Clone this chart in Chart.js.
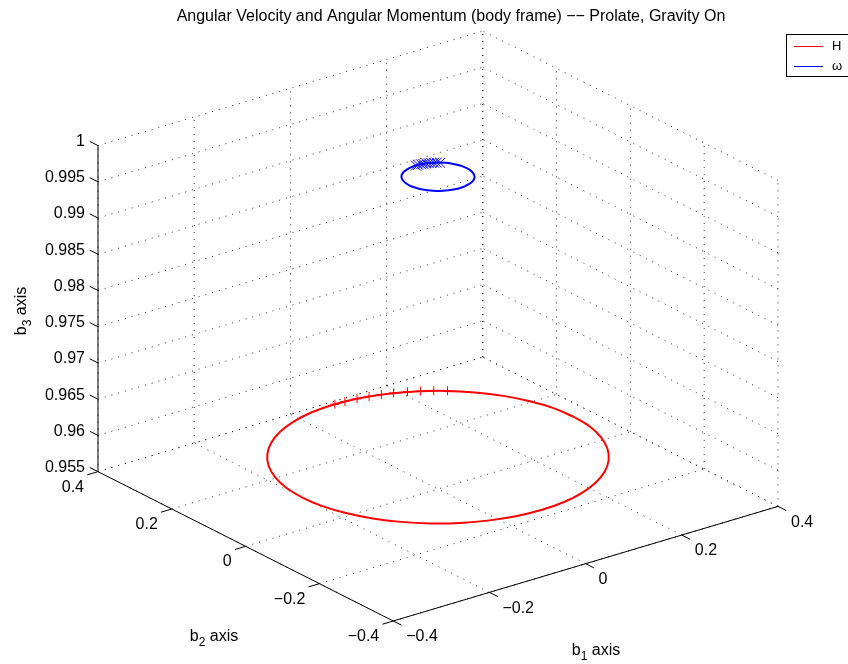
<!DOCTYPE html>
<html>
<head>
<meta charset="utf-8">
<title>Angular Velocity and Angular Momentum</title>
<script src="https://cdn.jsdelivr.net/npm/chart.js@4.4.0/dist/chart.umd.min.js"></script>
<style>
    html, body { margin: 0; padding: 0; background: #fff; }
    #wrap { width: 848px; height: 664px; }
</style>
</head>
<body>
<div id="wrap"><canvas id="myChart" width="848" height="664"></canvas></div>
<script>
(function () {
    "use strict";

    // axis limits and ticks, body frame components
    var b1Lim = [-0.4, 0.4];
    var b2Lim = [-0.4, 0.4];
    var b3Lim = [0.955, 1];
    var b1Ticks = [-0.4, -0.2, 0, 0.2, 0.4];
    var b2Ticks = [-0.4, -0.2, 0, 0.2, 0.4];
    var b3Ticks = [0.955, 0.96, 0.965, 0.97, 0.975, 0.98, 0.985, 0.99, 0.995, 1];
    var b1TickLabels = ['\u22120.4', '\u22120.2', '0', '0.2', '0.4'];
    var b2TickLabels = ['\u22120.4', '\u22120.2', '0', '0.2', '0.4'];
    var b3TickLabels = ['0.955', '0.96', '0.965', '0.97', '0.975', '0.98', '0.985', '0.99', '0.995', '1'];

    // angular momentum H, one full cone
    var hB1 = [0.282, 0.278, 0.265, 0.244, 0.216, 0.181, 0.141, 0.096, 0.049, 0, -0.049, -0.096, -0.141, -0.181, -0.216, -0.244, -0.265, -0.278,
               -0.282, -0.278, -0.265, -0.244, -0.216, -0.181, -0.141, -0.096, -0.049, 0, 0.049, 0.096, 0.141, 0.181, 0.216, 0.244, 0.265, 0.278, 0.282];
    var hB2 = [0, 0.049, 0.096, 0.141, 0.181, 0.216, 0.244, 0.265, 0.278, 0.282, 0.278, 0.265, 0.244, 0.216, 0.181, 0.141, 0.096, 0.049,
               0, -0.049, -0.096, -0.141, -0.181, -0.216, -0.244, -0.265, -0.278, -0.282, -0.278, -0.265, -0.244, -0.216, -0.181, -0.141, -0.096, -0.049, 0];
    var hB3 = 0.9594;
    // marked H samples
    var hMarkB1 = [0.184, 0.166, 0.148, 0.129, 0.108, 0.088, 0.067, 0.045, 0.022, 0.002];
    var hMarkB2 = [0.214, 0.228, 0.240, 0.251, 0.261, 0.268, 0.274, 0.278, 0.281, 0.282];

    // angular velocity omega, one full cone
    var wB1 = [0.060, 0.059, 0.056, 0.052, 0.046, 0.039, 0.030, 0.021, 0.010, 0, -0.010, -0.021, -0.030, -0.039, -0.046, -0.052, -0.056, -0.059,
               -0.060, -0.059, -0.056, -0.052, -0.046, -0.039, -0.030, -0.021, -0.010, 0, 0.010, 0.021, 0.030, 0.039, 0.046, 0.052, 0.056, 0.059, 0.060];
    var wB2 = [0, 0.010, 0.021, 0.030, 0.039, 0.046, 0.052, 0.056, 0.059, 0.060, 0.059, 0.056, 0.052, 0.046, 0.039, 0.030, 0.021, 0.010,
               0, -0.010, -0.021, -0.030, -0.039, -0.046, -0.052, -0.056, -0.059, -0.060, -0.059, -0.056, -0.052, -0.046, -0.039, -0.030, -0.021, -0.010, 0];
    var wB3 = 0.9981;
    // marked omega samples
    var wMarkB1 = [0.039, 0.035, 0.031, 0.027, 0.023, 0.019, 0.014, 0.010, 0.005, 0.000];
    var wMarkB2 = [0.045, 0.049, 0.051, 0.053, 0.055, 0.057, 0.058, 0.059, 0.060, 0.060];

    var FONT = '"Liberation Sans", Arial, Helvetica, sans-serif';

    // default 3-D view: azimuth -37.5, elevation 30
    var az = -37.5 * Math.PI / 180;
    var el = 30 * Math.PI / 180;

    function project(p1, p2, p3) {
        var x = (p1 - b1Lim[0]) / (b1Lim[1] - b1Lim[0]);
        var y = (p2 - b2Lim[0]) / (b2Lim[1] - b2Lim[0]);
        var z = (p3 - b3Lim[0]) / (b3Lim[1] - b3Lim[0]);
        return {
            x: Math.cos(az) * x + Math.sin(az) * y,
            y: -Math.sin(el) * Math.sin(az) * x + Math.sin(el) * Math.cos(az) * y + Math.cos(el) * z
        };
    }

    // bounds of the projected box
    var xMin = Infinity, xMax = -Infinity, yMin = Infinity, yMax = -Infinity;
    [0, 1].forEach(function (i) {
        [0, 1].forEach(function (j) {
            [0, 1].forEach(function (k) {
                var q = project(b1Lim[i], b2Lim[j], b3Lim[k]);
                xMin = Math.min(xMin, q.x); xMax = Math.max(xMax, q.x);
                yMin = Math.min(yMin, q.y); yMax = Math.max(yMax, q.y);
            });
        });
    });

    function segments(list) {
        var out = [];
        list.forEach(function (s) {
            out.push(project(s[0][0], s[0][1], s[0][2]));
            out.push(project(s[1][0], s[1][1], s[1][2]));
            out.push({ x: null, y: null });
        });
        return out;
    }

    function curve(a1, a2, a3) {
        return a1.map(function (v, i) { return project(v, a2[i], a3); });
    }

    var z0 = b3Lim[0], z1 = b3Lim[1];
    var lo1 = b1Lim[0], hi1 = b1Lim[1], lo2 = b2Lim[0], hi2 = b2Lim[1];

    // dotted grid on floor and the two back walls
    var grid = [];
    b1Ticks.forEach(function (c) {
        grid.push([[c, lo2, z0], [c, hi2, z0]]);
        grid.push([[c, hi2, z0], [c, hi2, z1]]);
    });
    b2Ticks.forEach(function (c) {
        grid.push([[lo1, c, z0], [hi1, c, z0]]);
        grid.push([[hi1, c, z0], [hi1, c, z1]]);
    });
    b3Ticks.forEach(function (c) {
        grid.push([[lo1, hi2, c], [hi1, hi2, c]]);
        grid.push([[hi1, lo2, c], [hi1, hi2, c]]);
    });

    // solid axis lines and their ticks
    var tickLen = 0.028 * (b1Lim[1] - b1Lim[0]);
    var axes = [
        [[lo1, hi2, z0], [lo1, hi2, z1]],
        [[lo1, lo2, z0], [lo1, hi2, z0]],
        [[lo1, lo2, z0], [hi1, lo2, z0]]
    ];
    b3Ticks.forEach(function (c) { axes.push([[lo1, hi2, c], [lo1, hi2 + tickLen, c]]); });
    b2Ticks.forEach(function (c) { axes.push([[lo1, c, z0], [lo1 - tickLen, c, z0]]); });
    b1Ticks.forEach(function (c) { axes.push([[c, lo2, z0], [c, lo2 - tickLen, z0]]); });

    var hMarks = hMarkB1.map(function (v, i) { return project(v, hMarkB2[i], hB3); });
    var wMarks = wMarkB1.map(function (v, i) { return project(v, wMarkB2[i], wB3); });

    var textPlugin = {
        id: 'axisText',
        afterDraw: function (chart) {
            var ctx = chart.ctx, sx = chart.scales.x, sy = chart.scales.y;
            function pix(p1, p2, p3) {
                var q = project(p1, p2, p3);
                return { x: sx.getPixelForValue(q.x), y: sy.getPixelForValue(q.y) };
            }
            ctx.save();
            ctx.fillStyle = '#000';
            ctx.font = '16px ' + FONT;
            ctx.textBaseline = 'middle';

            ctx.textAlign = 'right';
            b3Ticks.forEach(function (v, i) {
                var p = pix(lo1, hi2, v);
                ctx.fillText(b3TickLabels[i], p.x - 13, p.y - 4);
            });
            b2Ticks.forEach(function (v, i) {
                var p = pix(lo1, v, z0);
                ctx.fillText(b2TickLabels[i], p.x - 14, p.y + 15.5);
            });
            ctx.textAlign = 'left';
            b1Ticks.forEach(function (v, i) {
                var p = pix(v, lo2, z0);
                ctx.fillText(b1TickLabels[i], p.x + 13, p.y + 16);
            });

            // title
            ctx.textAlign = 'center';
            ctx.fillText('Angular Velocity and Angular Momentum (body frame) \u2212\u2212 Prolate, Gravity On', 451, 16.5);

            // axis labels with subscripts
            function subLabel(x, y, sub, angle) {
                ctx.save();
                ctx.translate(x, y);
                ctx.rotate(angle);
                ctx.textBaseline = 'alphabetic';
                ctx.textAlign = 'left';
                ctx.font = '16px ' + FONT;
                var wb = ctx.measureText('b').width;
                var wt = ctx.measureText(' axis').width;
                ctx.font = '12px ' + FONT;
                var ws = ctx.measureText(sub).width;
                var left = -(wb + ws + wt) / 2;
                ctx.font = '16px ' + FONT;
                ctx.fillText('b', left, 0);
                ctx.fillText(' axis', left + wb + ws, 0);
                ctx.font = '12px ' + FONT;
                ctx.fillText(sub, left + wb, 5);
                ctx.restore();
            }
            subLabel(214, 641, '2', 0);
            subLabel(596, 655, '1', 0);
            subLabel(26, 311, '3', -Math.PI / 2);

            // legend box
            ctx.strokeStyle = '#000';
            ctx.lineWidth = 1;
            ctx.fillStyle = '#fff';
            ctx.fillRect(786.5, 34.5, 80, 42);
            ctx.strokeRect(786.5, 34.5, 80, 42);
            var entries = [
                { label: 'H', color: '#ff0000', y: 46 },
                { label: '\u03c9', color: '#0000ff', y: 66 }
            ];
            entries.forEach(function (e) {
                ctx.strokeStyle = e.color;
                ctx.beginPath();
                ctx.moveTo(794, e.y + 0.5);
                ctx.lineTo(823, e.y + 0.5);
                ctx.stroke();
                ctx.fillStyle = '#000';
                ctx.font = '13px ' + FONT;
                ctx.textAlign = 'left';
                ctx.textBaseline = 'middle';
                ctx.fillText(e.label, 832, e.y + 0.5);
            });
            ctx.restore();
        }
    };

    var ctx = document.getElementById('myChart').getContext('2d');
    var chart = new Chart(ctx, {
        type: 'scatter',
        data: {
            datasets: [
                {
                    label: 'grid',
                    data: segments(grid),
                    showLine: true,
                    borderColor: 'rgba(0, 0, 0, 0.8)',
                    borderWidth: 1,
                    borderDash: [1, 6],
                    pointRadius: 0,
                    spanGaps: false,
                    clip: false,
                    order: 10
                },
                {
                    label: 'axes',
                    data: segments(axes),
                    showLine: true,
                    borderColor: '#000',
                    borderWidth: 1,
                    pointRadius: 0,
                    spanGaps: false,
                    clip: false,
                    order: 9
                },
                {
                    label: 'H',
                    data: curve(hB1, hB2, hB3),
                    showLine: true,
                    borderColor: '#ff0000',
                    borderWidth: 2,
                    tension: 0.3,
                    pointRadius: 0,
                    clip: false,
                    order: 4
                },
                {
                    label: 'H samples',
                    data: hMarks,
                    showLine: false,
                    pointStyle: 'cross',
                    pointRadius: 4.5,
                    pointBorderWidth: 1,
                    borderColor: '#ff0000',
                    pointBorderColor: '#ff0000',
                    clip: false,
                    order: 3
                },
                {
                    label: '\u03c9',
                    data: curve(wB1, wB2, wB3),
                    showLine: true,
                    borderColor: '#0000ff',
                    borderWidth: 2,
                    tension: 0.3,
                    pointRadius: 0,
                    clip: false,
                    order: 2
                },
                {
                    label: '\u03c9 samples',
                    data: wMarks,
                    showLine: false,
                    pointStyle: 'crossRot',
                    pointRadius: 7,
                    pointBorderWidth: 1,
                    borderColor: '#0000ff',
                    pointBorderColor: '#0000ff',
                    clip: false,
                    order: 1
                }
            ]
        },
        options: {
            responsive: false,
            devicePixelRatio: 1,
            animation: false,
            events: [],
            layout: { padding: { left: 98, right: 70, top: 31, bottom: 43 } },
            plugins: {
                legend: { display: false },
                tooltip: { enabled: false },
                title: { display: false }
            },
            scales: {
                x: { type: 'linear', display: false, min: xMin, max: xMax },
                y: { type: 'linear', display: false, min: yMin, max: yMax }
            }
        },
        plugins: [textPlugin]
    });
})();
</script>
</body>
</html>
